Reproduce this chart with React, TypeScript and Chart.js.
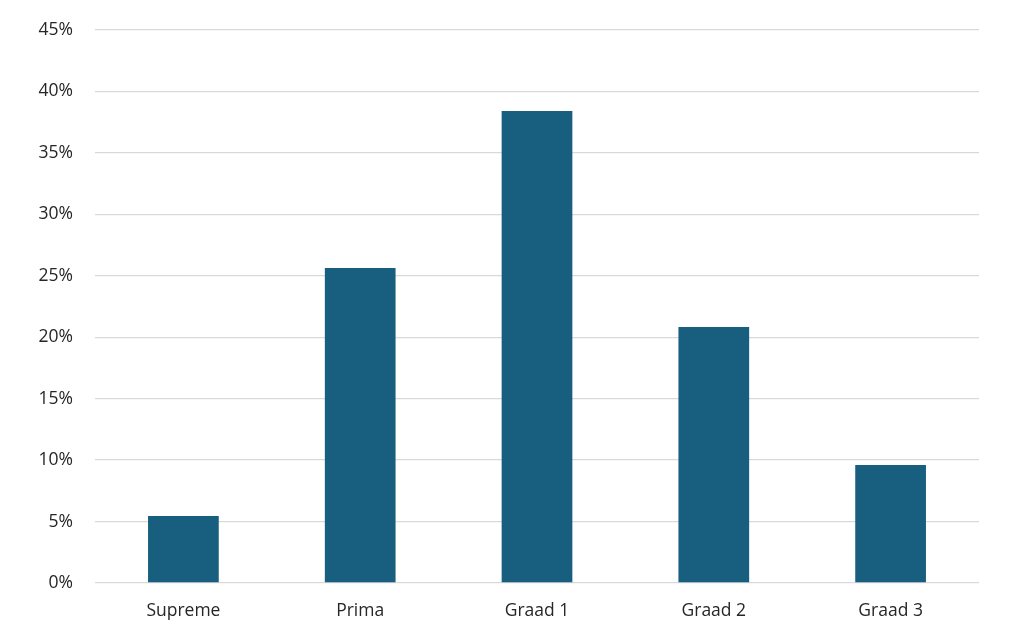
import React, { useEffect, useRef } from "react";
import { Chart, registerables } from "chart.js";

Chart.register(...registerables);

const categories = ["Supreme", "Prima", "Graad 1", "Graad 2", "Graad 3"];
const shares = [5.45, 25.63, 38.4, 20.83, 9.6];
const yTicks = [0, 5, 10, 15, 20, 25, 30, 35, 40, 45];

export default function App() {
  const ref = useRef<HTMLCanvasElement | null>(null);
  useEffect(() => {
    document.body.style.margin = "0";
    const ctx = ref.current!;
    const chart = new Chart(ctx, {
      type: "bar",
      data: {
        labels: categories,
        datasets: [
          {
            data: shares,
            backgroundColor: "#175E7F",
            borderWidth: 0,
            categoryPercentage: 1,
            barPercentage: 0.4,
          },
        ],
      },
      options: {
        animation: false,
        responsive: false,
        maintainAspectRatio: false,
        layout: { padding: { left: 0, right: 45, top: 30, bottom: 0 } },
        plugins: { legend: { display: false }, tooltip: { enabled: false } },
        scales: {
          x: {
            grid: { display: false, drawTicks: false },
            border: { display: false },
            ticks: {
              color: "#262626",
              font: { family: "Open Sans", size: 17.5 },
              padding: 18,
              maxRotation: 0,
            },
            afterFit: (s: any) => {
              s.height = 48;
              s.paddingLeft = 0;
              s.paddingRight = 0;
            },
          },
          y: {
            min: 0,
            max: 45,
            afterBuildTicks: (s: any) => {
              s.ticks = yTicks.map((v) => ({ value: v }));
            },
            grid: { color: "#D9D9D9", lineWidth: 1.3, drawTicks: false },
            border: { display: false },
            ticks: {
              color: "#262626",
              font: { family: "Open Sans", size: 17.5 },
              padding: 22,
              callback: (v: any) => v + "%",
            },
            afterFit: (s: any) => {
              s.width = 95;
              s.paddingTop = 0;
              s.paddingBottom = 0;
            },
          },
        },
      },
    });
    return () => chart.destroy();
  }, []);
  return (
    <div style={{ width: 1024, height: 631, background: "#fff" }}>
      <canvas ref={ref} width={1024} height={631} style={{ display: "block" }} />
    </div>
  );
}
